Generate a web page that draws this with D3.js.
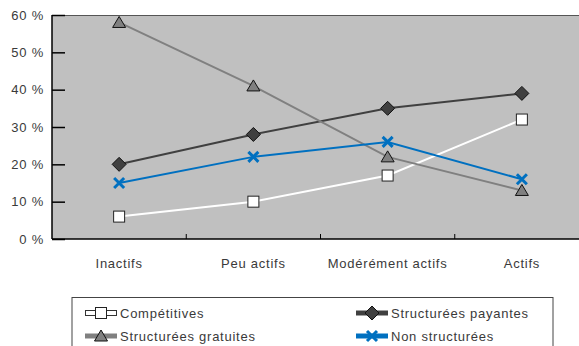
<!DOCTYPE html>
<html>
<head>
<meta charset="utf-8">
<script src="https://cdn.jsdelivr.net/npm/d3@7"></script>
<style>
  html, body { margin: 0; padding: 0; background: #fff; }
  svg { display: block; font-family: "Liberation Sans", Arial, sans-serif; }
  svg text { letter-spacing: 0.75px; }
</style>
</head>
<body>
<svg id="chart" width="579" height="346"></svg>
<script>
// Activity levels on the x axis
const categories = ["Inactifs", "Peu actifs", "Modérément actifs", "Actifs"];

// Share of each type of activity (%)
const competitives = [6, 10, 17, 32];
const structureesPayantes = [20, 28, 35, 39];
const structureesGratuites = [58, 41, 22, 13];
const nonStructurees = [15, 22, 26, 16];

const yTicks = [0, 10, 20, 30, 40, 50, 60];

const seriesList = [
  { name: "Compétitives", values: competitives, line: "#ffffff", fill: "#ffffff", marker: "square" },
  { name: "Structurées payantes", values: structureesPayantes, line: "#404040", fill: "#404040", marker: "diamond" },
  { name: "Structurées gratuites", values: structureesGratuites, line: "#808080", fill: "#808080", marker: "triangle" },
  { name: "Non structurées", values: nonStructurees, line: "#0070c0", fill: "#0070c0", marker: "cross" }
];

const svg = d3.select("#chart");
const plot = { left: 52, top: 15, right: 589, bottom: 239 };

const x = d3.scaleBand().domain(categories).range([plot.left, plot.right]);
const y = d3.scaleLinear().domain([0, 60]).range([plot.bottom, plot.top]);

// Plot background
svg.append("rect")
  .attr("x", plot.left).attr("y", plot.top)
  .attr("width", plot.right - plot.left).attr("height", plot.bottom - plot.top)
  .attr("fill", "#c0c0c0");
svg.append("line")
  .attr("x1", plot.left).attr("x2", plot.right)
  .attr("y1", plot.top + 0.5).attr("y2", plot.top + 0.5)
  .attr("stroke", "#555").attr("stroke-width", 1);

// Y axis: ticks point into the plot
const yAxis = d3.axisRight(y).tickValues(yTicks).tickSize(13).tickFormat("");
const yg = svg.append("g").attr("transform", `translate(${plot.left},0)`).call(yAxis);
yg.select(".domain").remove();
yg.selectAll(".tick line").attr("stroke", "#000").attr("stroke-width", 1.5);
svg.append("line")
  .attr("x1", plot.left).attr("x2", plot.left)
  .attr("y1", plot.top).attr("y2", plot.bottom)
  .attr("stroke", "#000").attr("stroke-width", 1.5);
svg.append("g").selectAll("text").data(yTicks).join("text")
  .attr("x", 44).attr("y", d => y(d) + 4.5)
  .attr("text-anchor", "end")
  .attr("font-size", 13).attr("fill", "#3a3a3a")
  .text(d => d + " %");

// X axis: category boundary ticks pointing up
const xBounds = categories.slice(1).map(c => x(c));
svg.append("g").selectAll("line").data(xBounds).join("line")
  .attr("x1", d => d).attr("x2", d => d)
  .attr("y1", plot.bottom).attr("y2", plot.bottom - 5)
  .attr("stroke", "#000").attr("stroke-width", 1);
svg.append("line")
  .attr("x1", plot.left).attr("x2", plot.right)
  .attr("y1", plot.bottom).attr("y2", plot.bottom)
  .attr("stroke", "#000").attr("stroke-width", 1.5);
svg.append("g").selectAll("text").data(categories).join("text")
  .attr("x", d => x(d) + x.bandwidth() / 2).attr("y", 268)
  .attr("text-anchor", "middle")
  .attr("font-size", 13).attr("fill", "#3a3a3a")
  .text(d => d);

const cx = c => x(c) + x.bandwidth() / 2;

// Marker drawing
function drawMarker(g, type, px, py, fill) {
  if (type === "square") {
    g.append("rect").attr("x", px - 5.5).attr("y", py - 5.5).attr("width", 11).attr("height", 11)
      .attr("fill", fill).attr("stroke", "#222").attr("stroke-width", 1);
  } else if (type === "diamond") {
    g.append("path").attr("d", `M${px},${py - 7}L${px + 7},${py}L${px},${py + 7}L${px - 7},${py}Z`)
      .attr("fill", fill).attr("stroke", "#111").attr("stroke-width", 1);
  } else if (type === "triangle") {
    g.append("path").attr("d", `M${px},${py - 6}L${px + 6.5},${py + 5}L${px - 6.5},${py + 5}Z`)
      .attr("fill", fill).attr("stroke", "#111").attr("stroke-width", 1);
  } else if (type === "cross") {
    g.append("path").attr("d", `M${px - 5},${py - 5}L${px + 5},${py + 5}M${px + 5},${py - 5}L${px - 5},${py + 5}`)
      .attr("stroke", fill).attr("stroke-width", 3).attr("fill", "none");
  }
}

const line = d3.line().x((d, i) => cx(categories[i])).y(d => y(d));

const linesG = svg.append("g");
seriesList.forEach(s => {
  linesG.append("path").datum(s.values).attr("d", line)
    .attr("fill", "none").attr("stroke", s.line).attr("stroke-width", 2);
});
const markG = svg.append("g");
seriesList.forEach(s => {
  s.values.forEach((v, i) => drawMarker(markG, s.marker, cx(categories[i]), y(v), s.fill));
});

// Legend
const lg = svg.append("g");
lg.append("rect").attr("x", 72).attr("y", 297.5).attr("width", 481).attr("height", 60)
  .attr("fill", "#fff").attr("stroke", "#444").attr("stroke-width", 1);
const legendPos = [
  { x: 85, y: 313 }, { x: 356, y: 313 }, { x: 85, y: 336 }, { x: 356, y: 336 }
];
seriesList.forEach((s, i) => {
  const p = legendPos[i];
  if (s.marker === "square") {
    lg.append("rect").attr("x", p.x + 0.5).attr("y", p.y - 2.5).attr("width", 31).attr("height", 5)
      .attr("fill", "#fff").attr("stroke", "#333").attr("stroke-width", 1);
  } else {
    lg.append("line").attr("x1", p.x).attr("x2", p.x + 32).attr("y1", p.y).attr("y2", p.y)
      .attr("stroke", s.line).attr("stroke-width", 5);
  }
  drawMarker(lg, s.marker, p.x + 16, p.y, s.fill);
  lg.append("text").attr("x", p.x + 35).attr("y", p.y + 5)
    .attr("font-size", 13).attr("fill", "#3a3a3a").text(s.name);
});
</script>
</body>
</html>
